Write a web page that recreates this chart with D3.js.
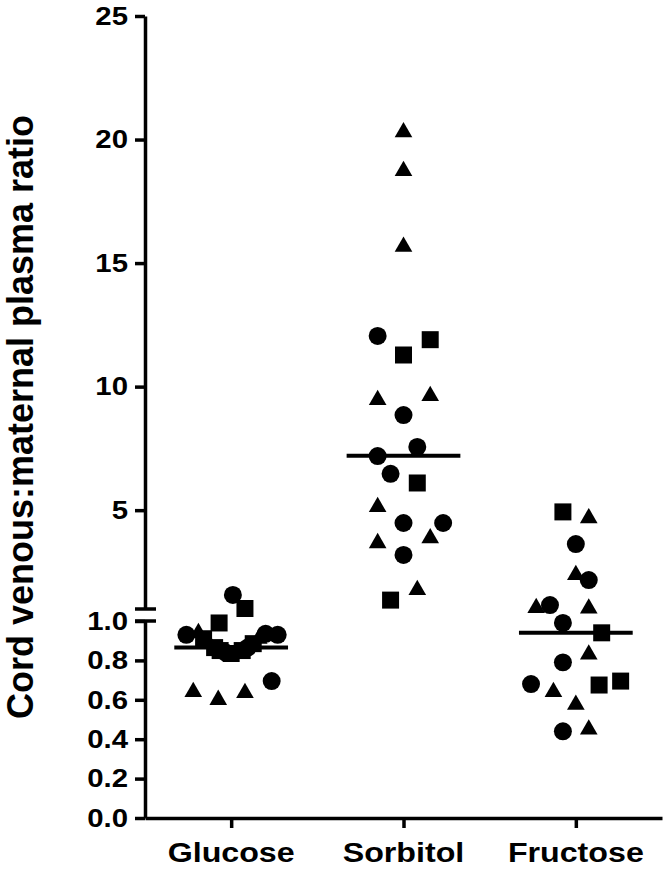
<!DOCTYPE html>
<html>
<head>
<meta charset="utf-8">
<script src="https://cdn.jsdelivr.net/npm/d3@7"></script>
<style>
  body { margin: 0; background: #fff; }
  text { font-family: "Liberation Sans", Arial, sans-serif; font-weight: bold; fill: #000; }
</style>
</head>
<body>
<div class="chart"></div>
<script>
// data
var categories = ["Glucose", "Sorbitol", "Fructose"];

var glucoseValues = [1.57, 1.02, 0.99, 0.93, 0.94, 0.91, 0.885, 0.865, 0.85, 0.84, 0.835, 0.84, 0.85, 0.865, 0.885, 0.91, 0.935, 0.93, 0.64, 0.60, 0.635, 0.695];
var glucoseShapes = ["c", "s", "s", "c", "t", "s", "t", "s", "s", "c", "s", "t", "s", "c", "s", "t", "c", "c", "t", "t", "t", "c"];
var glucoseJitter = [0.01, 0.08, -0.07, -0.26, -0.19, -0.16, -0.128, -0.096, -0.064, -0.032, 0, 0.032, 0.064, 0.096, 0.128, 0.16, 0.2, 0.27, -0.22, -0.075, 0.08, 0.235];

var sorbitolValues = [20.3, 18.73, 15.66, 12.05, 11.9, 11.28, 9.46, 9.62, 8.85, 7.56, 7.19, 6.47, 6.1, 5.13, 4.48, 4.48, 3.87, 3.67, 3.19, 1.77, 1.36];
var sorbitolShapes = ["t", "t", "t", "c", "s", "s", "t", "t", "c", "c", "c", "c", "s", "t", "c", "c", "t", "t", "c", "t", "s"];
var sorbitolJitter = [0, 0, 0, -0.15, 0.155, 0, -0.15, 0.155, 0, 0.08, -0.15, -0.075, 0.08, -0.15, 0, 0.23, 0.155, -0.15, 0, 0.08, -0.075];

var fructoseValues = [4.93, 4.68, 3.63, 2.38, 2.17, 1.04, 1.16, 1.02, 0.99, 0.94, 0.83, 0.79, 0.68, 0.64, 0.675, 0.695, 0.575, 0.44, 0.45];
var fructoseShapes = ["s", "t", "c", "t", "c", "t", "c", "t", "c", "s", "t", "c", "c", "t", "s", "s", "t", "c", "t"];
var fructoseJitter = [-0.075, 0.075, 0, 0, 0.075, -0.23, -0.15, 0.075, -0.075, 0.15, 0.075, -0.075, -0.26, -0.13, 0.135, 0.26, 0, -0.075, 0.075];

var medians = [0.865, 7.2, 0.94];

var upperTicks = [5, 10, 15, 20, 25];
var lowerTicks = [0, 0.2, 0.4, 0.6, 0.8, 1.0];

var svgWidth = 666;
var svgHeight = 869;

var svg = d3.select(".chart")
  .append("svg")
  .attr("width", svgWidth)
  .attr("height", svgHeight);

var axisX = 145;
var stretch = 1.13;

// broken y axis: two linear scales
var yUpper = d3.scaleLinear().domain([1, 25]).range([609, 16]);
var yLower = d3.scaleLinear().domain([0, 1]).range([818, 621]);
function yPos(v) { return v > 1 ? yUpper(v) : yLower(v); }

var x = d3.scalePoint()
  .domain(categories)
  .range([145, 662])
  .padding(0.5);
var step = x.step();

function styleAxis(g) {
  g.selectAll("path, line").attr("stroke", "#000").attr("stroke-width", 3.5);
  g.selectAll("text")
    .attr("font-size", 26)
    .attr("font-family", "Liberation Sans, Arial, sans-serif")
    .attr("font-weight", "bold");
}

var upperAxis = svg.append("g")
  .attr("transform", `translate(${axisX},0)`)
  .call(d3.axisLeft(yUpper).tickValues(upperTicks).tickSize(10).tickSizeOuter(0).tickPadding(4.5).tickFormat(d3.format("d")));
styleAxis(upperAxis);

var lowerAxis = svg.append("g")
  .attr("transform", `translate(${axisX},0)`)
  .call(d3.axisLeft(yLower).tickValues(lowerTicks).tickSize(10).tickSizeOuter(0).tickPadding(4.5).tickFormat(d3.format(".1f")));
styleAxis(lowerAxis);

// horizontally widened tick labels like the original
svg.selectAll(".tick text")
  .attr("x", -17 / stretch)
  .attr("transform", `scale(${stretch},1)`);

// break marks
[yUpper(1), yLower(1)].forEach(function(yy) {
  svg.append("line")
    .attr("x1", axisX - 10).attr("x2", axisX + 11)
    .attr("y1", yy).attr("y2", yy)
    .attr("stroke", "#000").attr("stroke-width", 3.5);
});

// x axis
var xAxis = svg.append("g")
  .attr("transform", "translate(0,818)")
  .call(d3.axisBottom(x).tickSize(10).tickSizeOuter(0).tickFormat(""));
xAxis.selectAll("path, line").attr("stroke", "#000").attr("stroke-width", 3.5);

svg.selectAll(".xlabel")
  .data(categories)
  .enter()
  .append("text")
  .attr("class", "xlabel")
  .attr("text-anchor", "middle")
  .attr("font-size", 28)
  .attr("transform", d => `translate(${x(d)},862) scale(1.15,1)`)
  .text(d => d);

// y title
svg.append("text")
  .attr("transform", "translate(33,417) rotate(-90)")
  .attr("text-anchor", "middle")
  .attr("font-size", 36)
  .text("Cord venous:maternal plasma ratio");

// points
var symbolFor = { c: d3.symbolCircle, s: d3.symbolSquare, t: d3.symbolTriangle };
var sizeFor = { c: 254, s: 289, t: 135 };

var groups = [
  { cat: "Glucose", values: glucoseValues, shapes: glucoseShapes, jitter: glucoseJitter },
  { cat: "Sorbitol", values: sorbitolValues, shapes: sorbitolShapes, jitter: sorbitolJitter },
  { cat: "Fructose", values: fructoseValues, shapes: fructoseShapes, jitter: fructoseJitter }
];

var points = [];
groups.forEach(function(g) {
  g.values.forEach(function(v, i) {
    points.push({ cat: g.cat, value: v, shape: g.shapes[i], jitter: g.jitter[i] });
  });
});

svg.append("g").selectAll("path")
  .data(points)
  .enter()
  .append("path")
  .attr("d", d => d3.symbol().type(symbolFor[d.shape]).size(sizeFor[d.shape])())
  .attr("transform", d => `translate(${x(d.cat) + d.jitter * step},${yPos(d.value)})`)
  .attr("fill", "#000");

// median lines
svg.append("g").selectAll("line")
  .data(categories)
  .enter()
  .append("line")
  .attr("x1", d => x(d) - 0.33 * step)
  .attr("x2", d => x(d) + 0.33 * step)
  .attr("y1", (d, i) => yPos(medians[i]))
  .attr("y2", (d, i) => yPos(medians[i]))
  .attr("stroke", "#000")
  .attr("stroke-width", 4);
</script>
</body>
</html>
